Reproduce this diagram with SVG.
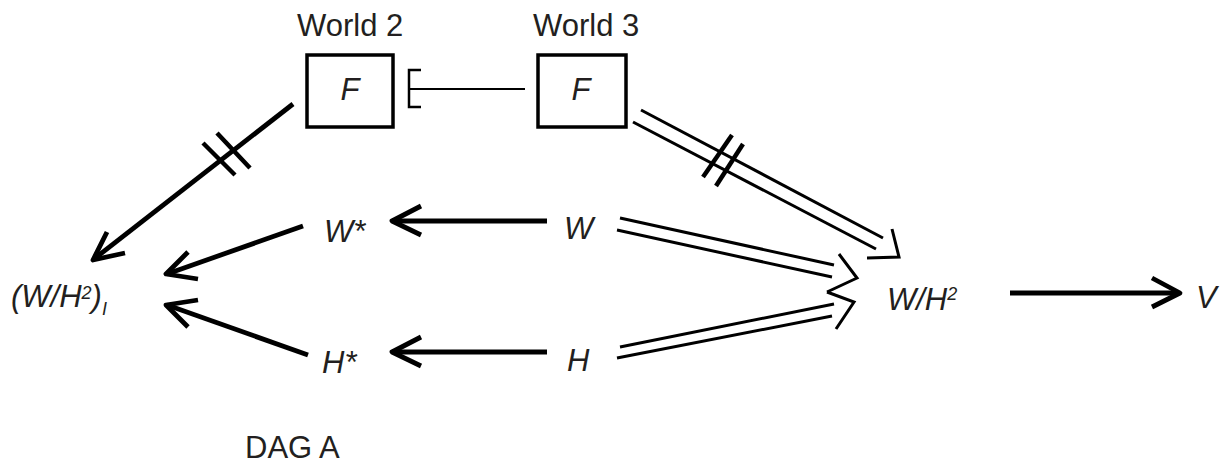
<svg xmlns="http://www.w3.org/2000/svg" width="1228" height="464" viewBox="0 0 1228 464">
<style>
.lbl{font-family:"Liberation Sans",Arial,sans-serif;fill:#231f20;font-size:31px}
.it{font-family:"Liberation Sans",Arial,sans-serif;fill:#231f20;font-style:italic;font-size:31px}
.box{fill:#fff;stroke:#000;stroke-width:3.5}
.thick{fill:none;stroke:#000;stroke-width:4.8;stroke-linejoin:round}
.dbl{fill:none;stroke:#000;stroke-width:3;stroke-linejoin:miter}
.tick{fill:none;stroke:#000;stroke-width:4.5}
.thin{fill:none;stroke:#000;stroke-width:2}
</style>
<rect width="1228" height="464" fill="#fff"/>
<g id="connectors">
  <!-- F(World2) -> (W/H2)I -->
  <g id="e-f2-wh2i">
    <line class="thick" x1="293" y1="104" x2="94" y2="259"/>
    <polyline class="thick" points="107,232 93,260 125,253"/>
    <line class="tick" x1="203" y1="143" x2="235" y2="175"/>
    <line class="tick" x1="217" y1="133" x2="250" y2="168"/>
  </g>
  <!-- F(World3) -> W/H2 -->
  <g id="e-f3-wh2">
    <line class="dbl" x1="641" y1="110" x2="883" y2="238"/>
    <line class="dbl" x1="633" y1="122" x2="876" y2="249"/>
    <polyline class="dbl" points="892,229 899,257 867,258"/>
    <line class="tick" x1="732" y1="135" x2="703" y2="177"/>
    <line class="tick" x1="743" y1="144" x2="716" y2="186"/>
  </g>
  <!-- W -> W* -->
  <g id="e-w-wstar">
    <line class="thick" x1="547" y1="221" x2="393" y2="221"/>
    <polyline class="thick" points="421,206 392,221 421,235"/>
  </g>
  <!-- H -> H* -->
  <g id="e-h-hstar">
    <line class="thick" x1="547" y1="352" x2="393" y2="352"/>
    <polyline class="thick" points="421,337 392,352 421,366"/>
  </g>
  <!-- W* -> (W/H2)I -->
  <g id="e-wstar-wh2i">
    <line class="thick" x1="303" y1="226" x2="167" y2="274"/>
    <polyline class="thick" points="188,252 166,274 198,279"/>
  </g>
  <!-- H* -> (W/H2)I -->
  <g id="e-hstar-wh2i">
    <line class="thick" x1="308" y1="355" x2="167" y2="305"/>
    <polyline class="thick" points="198,300 166,305 188,327"/>
  </g>
  <!-- W -> W/H2 -->
  <g id="e-w-wh2">
    <line class="dbl" x1="620" y1="218" x2="834" y2="265"/>
    <line class="dbl" x1="617" y1="230" x2="832" y2="277"/>
    <polyline class="dbl" points="839,254 857,278 827,292"/>
  </g>
  <!-- H -> W/H2 -->
  <g id="e-h-wh2">
    <line class="dbl" x1="620" y1="347" x2="834" y2="304"/>
    <line class="dbl" x1="617" y1="358" x2="832" y2="316"/>
    <polyline class="dbl" points="827,292 854,302 836,329"/>
  </g>
  <!-- W/H2 -> V -->
  <g id="e-wh2-v">
    <line class="thick" x1="1010" y1="293" x2="1179" y2="293"/>
    <polyline class="thick" points="1152,278 1180,293 1152,307"/>
  </g>
  <!-- F(World3) -| F(World2) -->
  <g id="e-f3-f2">
    <line class="thin" x1="525" y1="89" x2="409" y2="89"/>
    <polyline class="thin" points="421,70 409,70 409,107 421,107" style="stroke-width:2.5"/>
  </g>
</g>
<g id="node-world2">
  <text class="lbl" x="297" y="36">World 2</text>
  <rect class="box" x="307" y="55" width="86" height="72"/>
  <text class="it" x="350" y="100" text-anchor="middle">F</text>
</g>
<g id="node-world3">
  <text class="lbl" x="533" y="36">World 3</text>
  <rect class="box" x="538" y="55" width="88" height="72"/>
  <text class="it" x="581" y="100" text-anchor="middle">F</text>
</g>
<g id="node-wh2i">
  <text class="it" x="11" y="307">(W/H<tspan font-size="18" dy="-8">2</tspan><tspan dy="8">)</tspan><tspan font-size="18" dy="8">I</tspan></text>
</g>
<g id="node-wstar"><text class="it" x="324" y="242">W*</text></g>
<g id="node-hstar"><text class="it" x="322" y="373">H*</text></g>
<g id="node-w"><text class="it" x="564" y="239">W</text></g>
<g id="node-h"><text class="it" x="567" y="371">H</text></g>
<g id="node-wh2">
  <text class="it" x="887" y="310">W/H<tspan font-size="18" dy="-10">2</tspan></text>
</g>
<g id="node-v"><text class="it" x="1196" y="308">V</text></g>
<text class="lbl" x="245" y="458">DAG A</text>
</svg>
